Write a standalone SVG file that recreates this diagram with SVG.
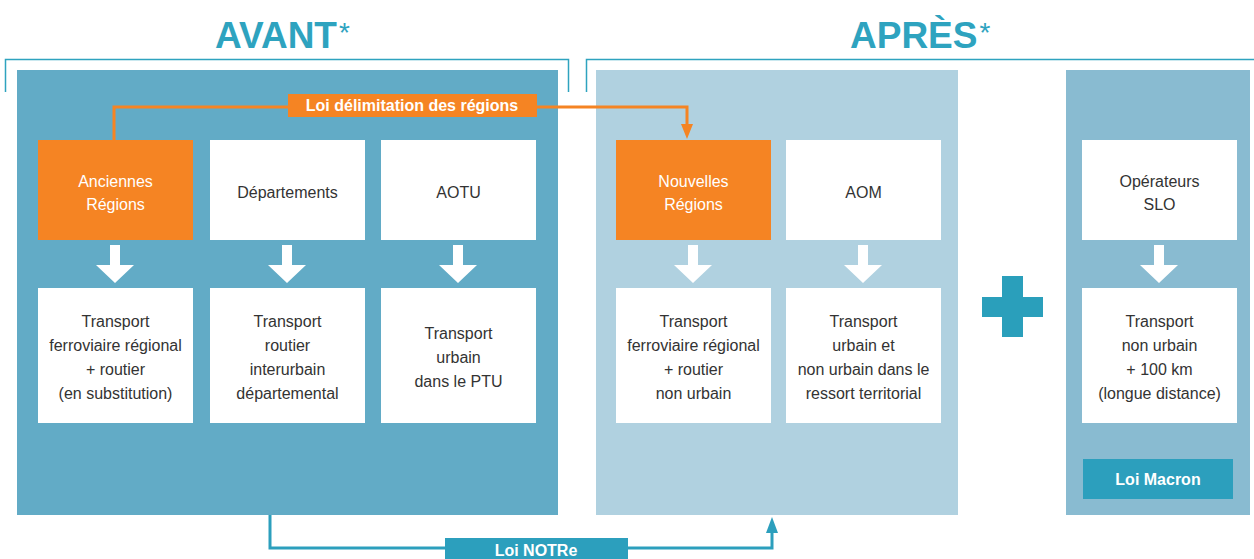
<svg xmlns="http://www.w3.org/2000/svg" width="1254" height="559" viewBox="0 0 1254 559">
<style>
.t{font-family:"Liberation Sans",Arial,sans-serif;font-size:16px;fill:#333;text-anchor:middle}
.w{fill:#fff}
.lbl{font-family:"Liberation Sans",Arial,sans-serif;font-size:16px;font-weight:bold;fill:#fff;text-anchor:middle}
.title{font-family:"Liberation Sans",Arial,sans-serif;font-size:37px;font-weight:bold;fill:#2ea3bf}
.ast{font-size:28px;font-weight:normal}
.box{fill:#fff}
.or{fill:#f58423}
.bracket{fill:none;stroke:#2ea3bf;stroke-width:1.5}
.dn{fill:#fff}
</style>
<defs>
<path id="darrow" d="M-5,0 H5 V20 H19 L0,38 L-19,20 H-5 Z" fill="#fff"/>
</defs>

<!-- titles -->
<text class="title" x="215" y="48">AVANT<tspan class="ast" dx="2" dy="-6">*</tspan></text>
<text class="title" x="850" y="48">APRÈS<tspan class="ast" dx="2" dy="-6">*</tspan></text>
<path class="bracket" d="M5.5,92 V59.5 H568.5 V92"/>
<path class="bracket" d="M586.5,92 V59.5 H1254"/>

<!-- panels -->
<rect x="17" y="70" width="541" height="445" fill="#62abc6"/>
<rect x="596" y="70" width="362" height="445" fill="#b0d1e0"/>
<rect x="1066" y="70" width="184" height="445" fill="#89bbd1"/>

<!-- connectors -->
<g id="connectors">
  <path d="M114,140 V107 H687 V126" fill="none" stroke="#f58423" stroke-width="3"/>
  <path d="M681,124 H693 L687,139 Z" fill="#f58423"/>
  <path d="M270,515 V548 H772 V530" fill="none" stroke="#2c9fbd" stroke-width="3"/>
  <path d="M766,533 H778 L772,517 Z" fill="#2c9fbd"/>
  <use href="#darrow" x="115" y="245"/>
  <use href="#darrow" x="287" y="245"/>
  <use href="#darrow" x="458" y="245"/>
  <use href="#darrow" x="693" y="245"/>
  <use href="#darrow" x="863" y="245"/>
  <use href="#darrow" x="1159" y="245"/>
</g>

<g id="label-delimitation">
  <rect x="288" y="94" width="249" height="23" fill="#f58423"/>
  <text class="lbl" x="412" y="111">Loi délimitation des régions</text>
</g>
<g id="label-notre">
  <rect x="445" y="538" width="183" height="22" fill="#2c9fbd"/>
  <text class="lbl" x="536" y="556">Loi NOTRe</text>
</g>
<g id="label-macron">
  <rect x="1083" y="459" width="150" height="40" fill="#2c9fbd"/>
  <text class="lbl" x="1158" y="485">Loi Macron</text>
</g>

<!-- row 1 -->
<g id="anciennes-regions">
  <rect class="or" x="38" y="140" width="155" height="100"/>
  <text class="t w" x="115.5" y="187">Anciennes</text>
  <text class="t w" x="115.5" y="210">Régions</text>
</g>
<g id="departements">
  <rect class="box" x="210" y="140" width="155" height="100"/>
  <text class="t" x="287.5" y="198">Départements</text>
</g>
<g id="aotu">
  <rect class="box" x="381" y="140" width="155" height="100"/>
  <text class="t" x="458.5" y="198">AOTU</text>
</g>
<g id="nouvelles-regions">
  <rect class="or" x="616" y="140" width="155" height="100"/>
  <text class="t w" x="693.5" y="187">Nouvelles</text>
  <text class="t w" x="693.5" y="210">Régions</text>
</g>
<g id="aom">
  <rect class="box" x="786" y="140" width="155" height="100"/>
  <text class="t" x="863.5" y="198">AOM</text>
</g>
<g id="operateurs-slo">
  <rect class="box" x="1082" y="140" width="155" height="100"/>
  <text class="t" x="1159.5" y="187">Opérateurs</text>
  <text class="t" x="1159.5" y="210">SLO</text>
</g>

<!-- row 2 -->
<g id="transport-ferroviaire-avant">
  <rect class="box" x="38" y="288" width="155" height="135"/>
  <text class="t" x="115.5" y="327">Transport</text>
  <text class="t" x="115.5" y="351">ferroviaire régional</text>
  <text class="t" x="115.5" y="375">+ routier</text>
  <text class="t" x="115.5" y="399">(en substitution)</text>
</g>
<g id="transport-routier">
  <rect class="box" x="210" y="288" width="155" height="135"/>
  <text class="t" x="287.5" y="327">Transport</text>
  <text class="t" x="287.5" y="351">routier</text>
  <text class="t" x="287.5" y="375">interurbain</text>
  <text class="t" x="287.5" y="399">départemental</text>
</g>
<g id="transport-urbain">
  <rect class="box" x="381" y="288" width="155" height="135"/>
  <text class="t" x="458.5" y="339">Transport</text>
  <text class="t" x="458.5" y="363">urbain</text>
  <text class="t" x="458.5" y="387">dans le PTU</text>
</g>
<g id="transport-ferroviaire-apres">
  <rect class="box" x="616" y="288" width="155" height="135"/>
  <text class="t" x="693.5" y="327">Transport</text>
  <text class="t" x="693.5" y="351">ferroviaire régional</text>
  <text class="t" x="693.5" y="375">+ routier</text>
  <text class="t" x="693.5" y="399">non urbain</text>
</g>
<g id="transport-aom">
  <rect class="box" x="786" y="288" width="155" height="135"/>
  <text class="t" x="863.5" y="327">Transport</text>
  <text class="t" x="863.5" y="351">urbain et</text>
  <text class="t" x="863.5" y="375">non urbain dans le</text>
  <text class="t" x="863.5" y="399">ressort territorial</text>
</g>
<g id="transport-slo">
  <rect class="box" x="1082" y="288" width="155" height="135"/>
  <text class="t" x="1159.5" y="327">Transport</text>
  <text class="t" x="1159.5" y="351">non urbain</text>
  <text class="t" x="1159.5" y="375">+ 100 km</text>
  <text class="t" x="1159.5" y="399">(longue distance)</text>
</g>

<g id="plus">
  <rect x="982" y="297" width="61" height="20" fill="#2a9fbb"/>
  <rect x="1002" y="276" width="21" height="61" fill="#2a9fbb"/>
</g>
</svg>
